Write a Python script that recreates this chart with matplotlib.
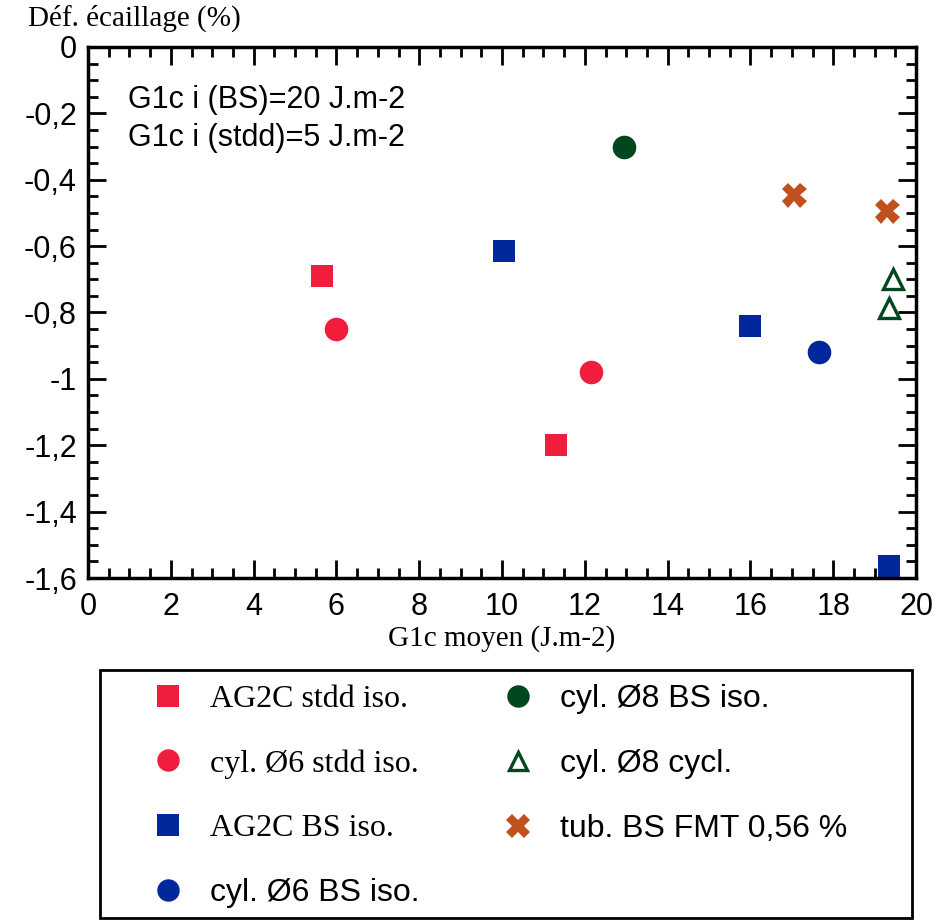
#!/usr/bin/env python3

import matplotlib
matplotlib.use("Agg")
import matplotlib.pyplot as plt
from matplotlib.patches import Rectangle
from matplotlib.ticker import MultipleLocator, FuncFormatter

# data
ag2c_stdd_x = [5.65, 11.3]
ag2c_stdd_y = [-0.69, -1.20]
cyl6_stdd_x = [6.0, 12.15]
cyl6_stdd_y = [-0.85, -0.98]
ag2c_bs_x = [10.05, 16.0, 19.35]
ag2c_bs_y = [-0.615, -0.84, -1.565]
cyl6_bs_x = [17.65]
cyl6_bs_y = [-0.92]
cyl8_bs_x = [12.95]
cyl8_bs_y = [-0.30]
cyl8_cycl_x = [19.45, 19.35]
cyl8_cycl_y = [-0.70, -0.785]
tub_fmt_x = [17.05, 19.3]
tub_fmt_y = [-0.445, -0.495]

labels = ["AG2C stdd iso.", "cyl. Ø6 stdd iso.", "AG2C BS iso.", "cyl. Ø6 BS iso.",
          "cyl. Ø8 BS iso.", "cyl. Ø8 cycl.", "tub. BS FMT 0,56 %"]

red = "#f01e3c"
blue = "#00289a"
green = "#00461e"
orange = "#c0501e"

SANS = "Liberation Sans"
SERIF = "Liberation Serif"
FS = 22

my_dpi = 100
W, H = 944, 921
fig = plt.figure(figsize=(W / my_dpi, H / my_dpi), dpi=my_dpi)
ax = fig.add_axes([88 / W, 1 - 578 / H, (916 - 88) / W, (578 - 47) / H])

ms = 16
h1, = ax.plot(ag2c_stdd_x, ag2c_stdd_y, "s", color=red, ms=ms, mew=0, clip_on=False)
h2, = ax.plot(cyl6_stdd_x, cyl6_stdd_y, "o", color=red, ms=ms + 1, mew=0, clip_on=False)
h3, = ax.plot(ag2c_bs_x, ag2c_bs_y, "s", color=blue, ms=ms, mew=0, clip_on=False)
h4, = ax.plot(cyl6_bs_x, cyl6_bs_y, "o", color=blue, ms=ms + 1, mew=0, clip_on=False)
h5, = ax.plot(cyl8_bs_x, cyl8_bs_y, "o", color=green, ms=ms + 1, mew=0, clip_on=False)
h6, = ax.plot(cyl8_cycl_x, cyl8_cycl_y, "^", mfc="none", mec=green, ms=14, mew=2.4, clip_on=False)
h7, = ax.plot(tub_fmt_x, tub_fmt_y, "X", color=orange, ms=ms + 2, mew=0, clip_on=False)

ax.set_xlim(0, 20)
ax.set_ylim(-1.6, 0)
ax.xaxis.set_major_locator(MultipleLocator(2))
ax.xaxis.set_minor_locator(MultipleLocator(0.5))
ax.yaxis.set_major_locator(MultipleLocator(0.2))
ax.yaxis.set_minor_locator(MultipleLocator(0.05))

def fr_fmt(v, pos):
    if abs(v) < 1e-9:
        return "0"
    s = f"{v:.1f}".rstrip("0").rstrip(".")
    return s.replace(".", ",")

ax.yaxis.set_major_formatter(FuncFormatter(fr_fmt))
ax.xaxis.set_major_formatter(FuncFormatter(lambda v, p: f"{v:.0f}"))

for sp in ax.spines.values():
    sp.set_linewidth(2.5)
ax.tick_params(which="both", direction="in", top=True, right=True, width=2.0, color="black")
ax.tick_params(which="major", length=13)
ax.tick_params(which="minor", length=7)
ax.tick_params(axis="x", which="major", pad=10)
ax.tick_params(axis="y", which="major", pad=8)
for lab in ax.get_xticklabels() + ax.get_yticklabels():
    lab.set_fontfamily(SANS)
    lab.set_fontsize(FS)

ax.set_xlabel("G1c moyen (J.m-2)", fontfamily=SERIF, fontsize=21, labelpad=2)
fig.text(28 / W, 1 - 18 / H, "Déf. écaillage (%)", fontfamily=SERIF, fontsize=21,
         ha="left", va="center")

ax.text(0.048, 0.90, "G1c i (BS)=20 J.m-2", transform=ax.transAxes,
        fontfamily=SANS, fontsize=FS, va="center")
ax.text(0.048, 0.829, "G1c i (stdd)=5 J.m-2", transform=ax.transAxes,
        fontfamily=SANS, fontsize=FS, va="center")

# legend box drawn separately, legend content placed inside it
fig.patches.append(Rectangle((100 / W, 1 - 918 / H), (912 - 100) / W, (918 - 670) / H,
                             transform=fig.transFigure, fill=False,
                             edgecolor="black", linewidth=2))
leg = fig.legend([h1, h2, h3, h4, h5, h6, h7], labels, ncol=2,
                 loc="upper left", bbox_to_anchor=(152 / W, 1 - 684 / H),
                 prop={"family": SANS, "size": 23},
                 frameon=False, handlelength=1.0, handletextpad=0.8,
                 labelspacing=1.1, borderpad=0, borderaxespad=0,
                 columnspacing=2.6, markerscale=0.95)
for i, t in enumerate(leg.get_texts()):
    if i < 3:
        t.set_fontfamily(SERIF)

fig.savefig("out.png", dpi=my_dpi)
